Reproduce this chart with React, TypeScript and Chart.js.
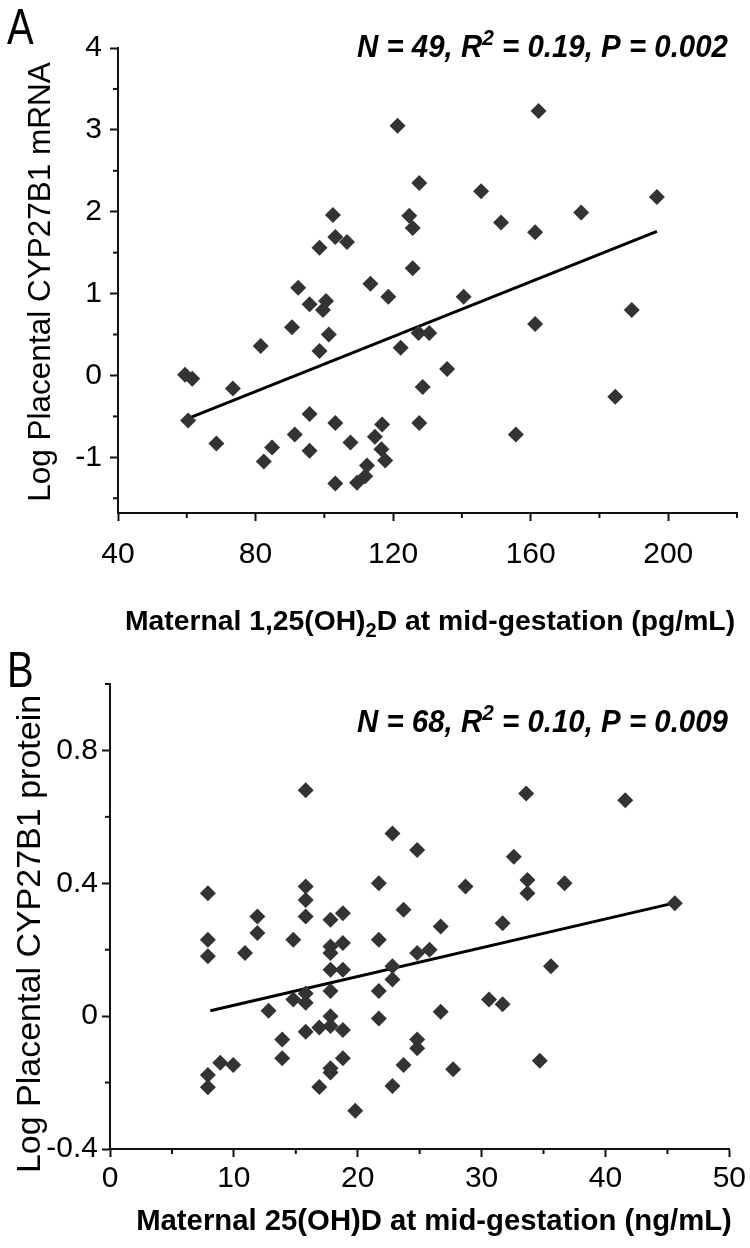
import React, { useEffect, useRef } from 'react';
import { Chart, registerables } from 'chart.js';

Chart.register(...registerables);

// ---------- Data: Panel A ----------
const aX = [121.3, 162.3, 127.6, 145.6, 196.7, 174.7, 102.5, 124.7, 151.4, 125.7, 161.3, 103.2, 106.6, 98.6, 125.7, 113.4, 92.4, 118.6, 140.5, 100.5, 95.7, 99.6, 189.4, 161.3, 90.6, 101.3, 127.4, 130.5, 81.5, 122.2, 98.6, 135.7, 59.5, 61.6, 128.6, 73.4, 184.6, 95.7, 60.4, 103.2, 127.6, 116.8, 91.4, 155.7, 114.7, 107.6, 68.6, 84.8, 116.6, 95.7, 117.7, 82.4, 112.4, 111.9, 109.5, 103.2];
const aY = [3.05, 3.23, 2.35, 2.25, 2.18, 1.99, 1.96, 1.95, 1.87, 1.80, 1.75, 1.69, 1.63, 1.56, 1.31, 1.12, 1.07, 0.96, 0.96, 0.91, 0.87, 0.80, 0.80, 0.63, 0.59, 0.50, 0.52, 0.52, 0.36, 0.34, 0.30, 0.08, 0.01, -0.04, -0.14, -0.16, -0.26, -0.47, -0.55, -0.58, -0.58, -0.60, -0.72, -0.72, -0.75, -0.82, -0.83, -0.88, -0.90, -0.92, -1.04, -1.05, -1.10, -1.23, -1.31, -1.32];
const aFitX = [60.6, 196.7];
const aFitY = [-0.52, 1.76];
const aXMajor = [40, 80, 120, 160, 200];
const aXMinor = [60, 100, 140, 180, 220];
const aYMajor = [-1, 0, 1, 2, 3, 4];
const aYMinor = [-1.5, -0.5, 0.5, 1.5, 2.5, 3.5];

// ---------- Data: Panel B ----------
const bX = [15.8, 41.6, 33.6, 22.8, 24.8, 32.6, 21.7, 15.8, 7.9, 15.8, 33.7, 33.7, 36.7, 28.7, 45.6, 23.7, 11.9, 15.8, 17.8, 18.8, 31.7, 26.7, 11.9, 7.9, 14.8, 21.7, 18.8, 17.8, 25.8, 10.9, 17.8, 24.8, 7.9, 35.6, 22.8, 17.8, 18.8, 22.8, 21.7, 17.8, 15.8, 14.8, 15.8, 30.6, 31.7, 12.8, 26.7, 17.8, 21.7, 17.8, 16.9, 18.8, 15.8, 13.9, 24.8, 24.8, 13.9, 18.8, 34.7, 8.9, 9.95, 23.7, 17.8, 27.7, 17.8, 7.9, 16.9, 22.8, 7.9, 19.8];
const bY = [0.68, 0.65, 0.67, 0.55, 0.50, 0.48, 0.40, 0.39, 0.37, 0.35, 0.41, 0.37, 0.40, 0.39, 0.34, 0.32, 0.30, 0.30, 0.29, 0.31, 0.28, 0.27, 0.25, 0.23, 0.23, 0.23, 0.22, 0.21, 0.20, 0.19, 0.19, 0.19, 0.18, 0.15, 0.15, 0.14, 0.14, 0.11, 0.076, 0.076, 0.068, 0.05, 0.04, 0.05, 0.036, 0.016, 0.013, 0.0, -0.007, -0.03, -0.034, -0.042, -0.047, -0.07, -0.07, -0.097, -0.127, -0.127, -0.134, -0.14, -0.147, -0.147, -0.157, -0.16, -0.17, -0.177, -0.213, -0.21, -0.214, -0.285];
const bFitX = [8.1, 45.6];
const bFitY = [0.016, 0.341];
const bXMajor = [0, 10, 20, 30, 40, 50];
const bXMinor = [5, 15, 25, 35, 45];
const bYMajor = [-0.4, 0, 0.4, 0.8];
const bYMinor = [-0.2, 0.2, 0.6, 1.0];

const FONT = '"Liberation Sans", Arial, sans-serif';
const INK = '#111111';
const POINT = '#333333';

type Seg = { t: string; sub?: boolean; sup?: boolean };

// Draws text made of normal / sub / superscript parts, squeezed along its run by `squeeze`.
function drawSegs(ctx: CanvasRenderingContext2D, segs: Seg[], x: number, y: number, align: 'left' | 'center' | 'right', size: number, style: string, squeeze: number, rotate = false) {
  const small = Math.round(size * 0.7);
  const fontFor = (s: Seg) => `${style} ${s.sub || s.sup ? small : size}px ${FONT}`;
  let total = 0;
  segs.forEach((s) => { ctx.font = fontFor(s); total += ctx.measureText(s.t).width; });
  ctx.save();
  ctx.translate(x, y);
  if (rotate) ctx.rotate(-Math.PI / 2);
  ctx.scale(squeeze, 1);
  let cx = align === 'left' ? 0 : align === 'center' ? -total / 2 : -total;
  ctx.textAlign = 'left';
  ctx.textBaseline = 'alphabetic';
  segs.forEach((s) => {
    ctx.font = fontFor(s);
    const dy = s.sub ? size * 0.25 : s.sup ? -size * 0.38 : 0;
    ctx.fillText(s.t, cx, dy);
    cx += ctx.measureText(s.t).width;
  });
  ctx.restore();
}

type PanelCfg = {
  xs: number[]; ys: number[]; fitX: number[]; fitY: number[];
  xMin: number; xMax: number; yMin: number; yMax: number;
  xMajor: number[]; xMinor: number[]; yMajor: number[]; yMinor: number[];
  width: number; height: number;
  axisLeft: number; padRight: number; padTop: number; xAxisHeight: number;
  yTitle: string; yTitleX: number; yTitleY: number; yTitleSize: number;
  xTitle: Seg[]; xTitleX: number; xTitleY: number; xTitleSize: number;
  letter: string; letterY: number; stat: Seg[]; statY: number;
  yLabelPad: number; xLabelPad: number;
};

function Panel({ cfg }: { cfg: PanelCfg }) {
  const ref = useRef<HTMLCanvasElement | null>(null);
  useEffect(() => {
    if (!ref.current) return;
    const decor = {
      id: 'decor',
      afterDraw(chart: any) {
        const ctx: CanvasRenderingContext2D = chart.ctx;
        const xs = chart.scales.x;
        const ys = chart.scales.y;
        const area = chart.chartArea;
        ctx.save();
        ctx.strokeStyle = INK;
        ctx.lineWidth = 2;
        cfg.xMinor.forEach((v) => {
          const px = xs.getPixelForValue(v);
          ctx.beginPath(); ctx.moveTo(px, area.bottom); ctx.lineTo(px, area.bottom + 5); ctx.stroke();
        });
        cfg.yMinor.forEach((v) => {
          const py = ys.getPixelForValue(v);
          ctx.beginPath(); ctx.moveTo(area.left, py); ctx.lineTo(area.left - 5, py); ctx.stroke();
        });
        ctx.fillStyle = '#000';
        drawSegs(ctx, [{ t: cfg.letter }], 7, cfg.letterY, 'left', 50, 'normal', 0.8);
        drawSegs(ctx, cfg.stat, 728, cfg.statY, 'right', 31, 'italic bold', 0.95);
        drawSegs(ctx, cfg.xTitle, cfg.xTitleX, cfg.xTitleY, 'center', cfg.xTitleSize, 'bold', 1);
        drawSegs(ctx, [{ t: cfg.yTitle }], cfg.yTitleX, cfg.yTitleY, 'center', cfg.yTitleSize, 'normal', 1, true);
        ctx.restore();
      },
    };
    const chart = new Chart(ref.current, {
      type: 'scatter',
      data: {
        datasets: [
          {
            type: 'scatter',
            data: cfg.xs.map((x, i) => ({ x, y: cfg.ys[i] })),
            pointStyle: 'rectRot',
            pointRadius: 8,
            pointBackgroundColor: POINT,
            pointBorderColor: POINT,
            pointBorderWidth: 0,
          },
          {
            type: 'line',
            data: cfg.fitX.map((x, i) => ({ x, y: cfg.fitY[i] })),
            borderColor: '#000',
            borderWidth: 3,
            pointRadius: 0,
            fill: false,
          } as any,
        ],
      },
      options: {
        animation: false,
        responsive: false,
        maintainAspectRatio: false,
        layout: { padding: { left: 0, right: cfg.padRight, top: cfg.padTop, bottom: 0 } },
        plugins: { legend: { display: false }, tooltip: { enabled: false } },
        scales: {
          x: {
            type: 'linear',
            min: cfg.xMin,
            max: cfg.xMax,
            afterBuildTicks: (s: any) => { s.ticks = cfg.xMajor.map((v) => ({ value: v })); },
            afterFit: (s: any) => { s.height = cfg.xAxisHeight; },
            grid: { display: true, drawOnChartArea: false, drawTicks: true, tickLength: 8, tickWidth: 2, tickColor: INK },
            border: { display: true, color: INK, width: 2 },
            ticks: { color: '#000', font: { family: FONT, size: 30 }, padding: cfg.xLabelPad, maxRotation: 0, autoSkip: false, callback: (v: any) => String(v) },
            title: { display: false },
          },
          y: {
            type: 'linear',
            min: cfg.yMin,
            max: cfg.yMax,
            afterBuildTicks: (s: any) => { s.ticks = cfg.yMajor.map((v) => ({ value: v })); },
            afterFit: (s: any) => { s.width = cfg.axisLeft; },
            grid: { display: true, drawOnChartArea: false, drawTicks: true, tickLength: 8, tickWidth: 2, tickColor: INK },
            border: { display: true, color: INK, width: 2 },
            ticks: { color: '#000', font: { family: FONT, size: 30 }, padding: cfg.yLabelPad, autoSkip: false, callback: (v: any) => String(v) },
            title: { display: false },
          },
        },
      },
      plugins: [decor],
    } as any);
    return () => chart.destroy();
  }, [cfg]);
  return <canvas ref={ref} width={cfg.width} height={cfg.height} style={{ display: 'block', width: cfg.width, height: cfg.height }} />;
}

const panelA: PanelCfg = {
  xs: aX, ys: aY, fitX: aFitX, fitY: aFitY,
  xMin: 40, xMax: 220, yMin: -1.68, yMax: 4,
  xMajor: aXMajor, xMinor: aXMinor, yMajor: aYMajor, yMinor: aYMinor,
  width: 750, height: 640,
  axisLeft: 118, padRight: 13, padTop: 48, xAxisHeight: 127,
  yTitle: 'Log Placental CYP27B1 mRNA', yTitleX: 50, yTitleY: 282, yTitleSize: 31.5,
  xTitle: [{ t: 'Maternal 1,25(OH)' }, { t: '2', sub: true }, { t: 'D at mid-gestation (pg/mL)' }],
  xTitleX: 430, xTitleY: 630, xTitleSize: 28.3,
  letter: 'A', letterY: 44,
  stat: [{ t: 'N = 49, R' }, { t: '2', sup: true }, { t: ' = 0.19, P = 0.002' }], statY: 57,
  yLabelPad: 8, xLabelPad: 16,
};

const panelB: PanelCfg = {
  xs: bX, ys: bY, fitX: bFitX, fitY: bFitY,
  xMin: 0, xMax: 50, yMin: -0.4, yMax: 1.0,
  xMajor: bXMajor, xMinor: bXMinor, yMajor: bYMajor, yMinor: bYMinor,
  width: 750, height: 608,
  axisLeft: 110, padRight: 17, padTop: 44, xAxisHeight: 99,
  yTitle: 'Log Placental CYP27B1 protein', yTitleX: 40, yTitleY: 294, yTitleSize: 34,
  xTitle: [{ t: 'Maternal 25(OH)D at mid-gestation (ng/mL)' }],
  xTitleX: 434, xTitleY: 590, xTitleSize: 29.3,
  letter: 'B', letterY: 47,
  stat: [{ t: 'N = 68, R' }, { t: '2', sup: true }, { t: ' = 0.10, P = 0.009' }], statY: 92,
  yLabelPad: 4, xLabelPad: 4,
};

export default function App() {
  return (
    <div style={{ position: 'absolute', left: 0, top: 0, width: 750, height: 1248, background: '#fff' }}>
      <Panel cfg={panelA} />
      <Panel cfg={panelB} />
    </div>
  );
}
